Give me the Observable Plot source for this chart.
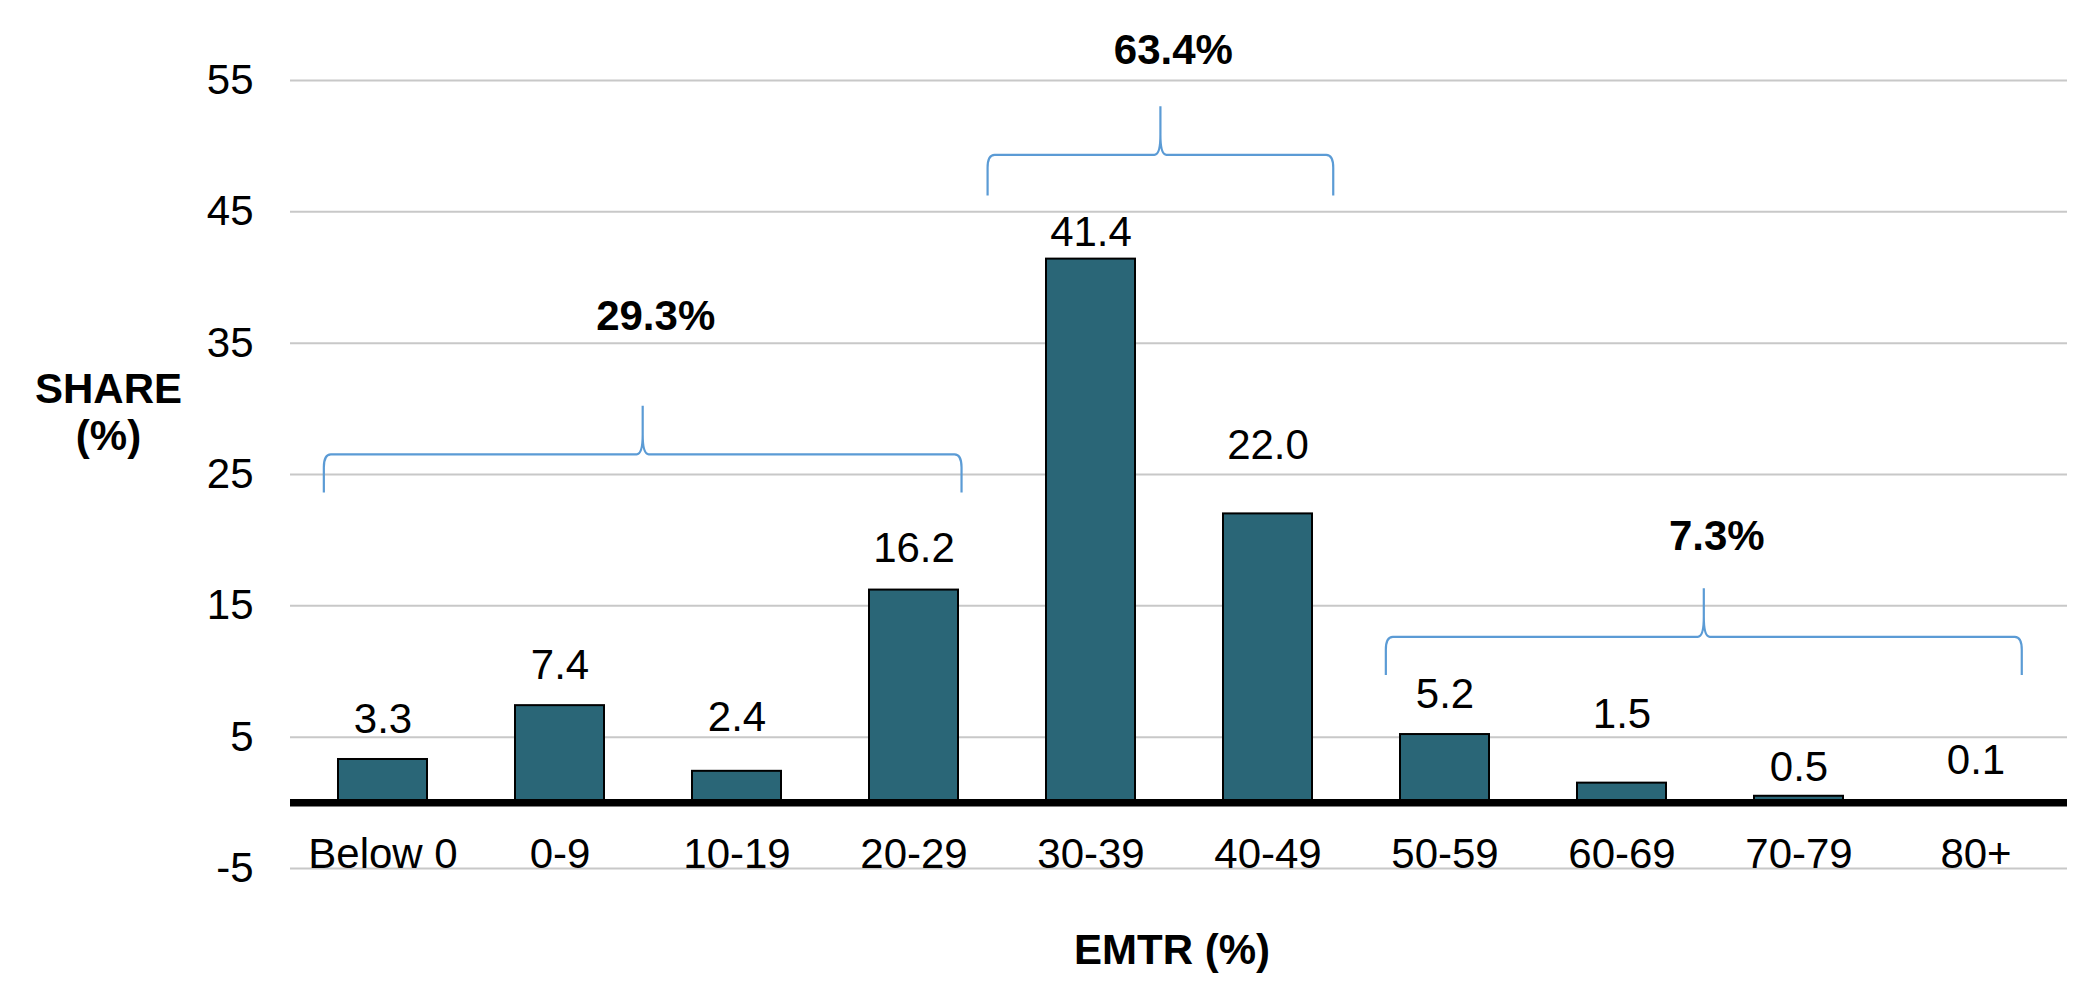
<!DOCTYPE html>
<html>
<head>
<meta charset="utf-8">
<script src="https://cdn.jsdelivr.net/npm/d3@7"></script>
<script src="https://cdn.jsdelivr.net/npm/@observablehq/plot@0.6"></script>
<style>
html, body { margin: 0; padding: 0; background: #ffffff; }
#chart svg { display: block; }
</style>
</head>
<body>
<div id="chart"></div>
<script>
// ---- data ----
const categories = ["Below 0", "0-9", "10-19", "20-29", "30-39", "40-49", "50-59", "60-69", "70-79", "80+"];
const shares = [3.3, 7.4, 2.4, 16.2, 41.4, 22.0, 5.2, 1.5, 0.5, 0.1];
const valueLabels = ["3.3", "7.4", "2.4", "16.2", "41.4", "22.0", "5.2", "1.5", "0.5", "0.1"];
// baseline of each value label, in share units (as placed in the original)
const labelBaseline = [5.3, 9.4, 5.5, 18.3, 42.4, 26.2, 7.2, 5.7, 1.7, 2.2];
const yTicks = [-5, 5, 15, 25, 35, 45, 55];
const yTickLabels = ["-5", "5", "15", "25", "35", "45", "55"];

// group braces
const groupLabels = ["29.3%", "63.4%", "7.3%"];
const groupFrom = ["Below 0", "30-39", "50-59"];
const groupTo = ["20-29", "40-49", "80+"];
const braceOutLeft = [0.08, 0.33, 0.08];   // in category steps beyond first bar
const braceOutRight = [0.02, 0.12, 0.01];  // in category steps beyond last bar
const braceBottom = [23.6, 46.2, 9.7];     // share units
const braceBar = [26.5, 49.3, 12.6];
const braceTip = [30.2, 53.0, 16.3];
const groupLabelBaseline = [36.0, 56.2, 19.2];

const xTitle = "EMTR (%)";
const yTitle = "SHARE\n(%)";

const FONT = "'Liberation Sans', Arial, Helvetica, sans-serif";
const FS = 42;

function braceMark(index, scales) {
  const x = scales.x, y = scales.y;
  const step = x(categories[1]) - x(categories[0]);
  const bw = typeof x.bandwidth === "function" ? x.bandwidth() : step / 2;
  const g = d3.create("svg:g");
  groupLabels.forEach((lab, i) => {
    const L = x(groupFrom[i]) - braceOutLeft[i] * step;
    const R = x(groupTo[i]) + bw + braceOutRight[i] * step;
    const M = (L + R) / 2;
    const yb = y(braceBottom[i]), yh = y(braceBar[i]), yt = y(braceTip[i]);
    const rx = 7, ry = 13, tx = 6, ty = 20;
    const p = d3.path();
    p.moveTo(L, yb);
    p.lineTo(L, yh + ry);
    p.quadraticCurveTo(L, yh, L + rx, yh);
    p.lineTo(M - tx, yh);
    p.quadraticCurveTo(M, yh, M, yh - ty);
    p.lineTo(M, yt);
    p.moveTo(M, yh - ty);
    p.quadraticCurveTo(M, yh, M + tx, yh);
    p.lineTo(R - rx, yh);
    p.quadraticCurveTo(R, yh, R, yh + ry);
    p.lineTo(R, yb);
    g.append("path")
      .attr("d", p.toString())
      .attr("fill", "none")
      .attr("stroke", "#5b9bd5")
      .attr("stroke-width", 2.2);
    g.append("text")
      .attr("x", M + 13)
      .attr("y", y(groupLabelBaseline[i]))
      .attr("text-anchor", "middle")
      .attr("font-family", FONT)
      .attr("font-size", FS)
      .attr("font-weight", "bold")
      .attr("fill", "#000")
      .text(lab);
  });
  return g.node();
}

const chart = Plot.plot({
  width: 2091,
  height: 1004,
  marginLeft: 290,
  marginRight: 24,
  marginTop: 80,
  marginBottom: 136,
  style: { fontFamily: FONT, fontSize: FS + "px", background: "#ffffff", color: "#000" },
  x: { type: "band", domain: categories, paddingInner: 0.5, paddingOuter: 0.25, label: null },
  y: { domain: [-5, 55], label: null },
  marks: [
    Plot.gridY(yTicks, { stroke: "#c8c8c8", strokeOpacity: 1, strokeWidth: 2 }),
    Plot.axisY({
      ticks: yTicks,
      tickFormat: d => yTickLabels[yTicks.indexOf(d)],
      tickSize: 0,
      tickPadding: 37,
      fontSize: FS,
      label: null
    }),
    Plot.axisX({ tickSize: 0, tickPadding: 0, dy: -30, fontSize: FS, label: null }),
    Plot.barY(categories, {
      x: d => d,
      y: (d, i) => shares[i],
      fill: "#2a6677",
      stroke: "#000",
      strokeWidth: 2
    }),
    Plot.ruleY([0], { stroke: "#000", strokeWidth: 7.5 }),
    Plot.text(categories, {
      x: d => d,
      y: (d, i) => labelBaseline[i],
      text: (d, i) => valueLabels[i],
      lineAnchor: "bottom",
      fontSize: FS,
      fill: "#000"
    }),
    braceMark,
    Plot.text([xTitle], {
      frameAnchor: "bottom",
      dx: -7,
      dy: 95,
      lineAnchor: "bottom",
      fontSize: FS,
      fontWeight: "bold",
      fill: "#000"
    }),
    Plot.text([yTitle], {
      frameAnchor: "left",
      dx: -182,
      dy: -25,
      lineAnchor: "bottom",
      lineHeight: 1.1,
      textAnchor: "middle",
      fontSize: FS,
      fontWeight: "bold",
      fill: "#000"
    })
  ]
});

document.getElementById("chart").appendChild(chart);
</script>
</body>
</html>
